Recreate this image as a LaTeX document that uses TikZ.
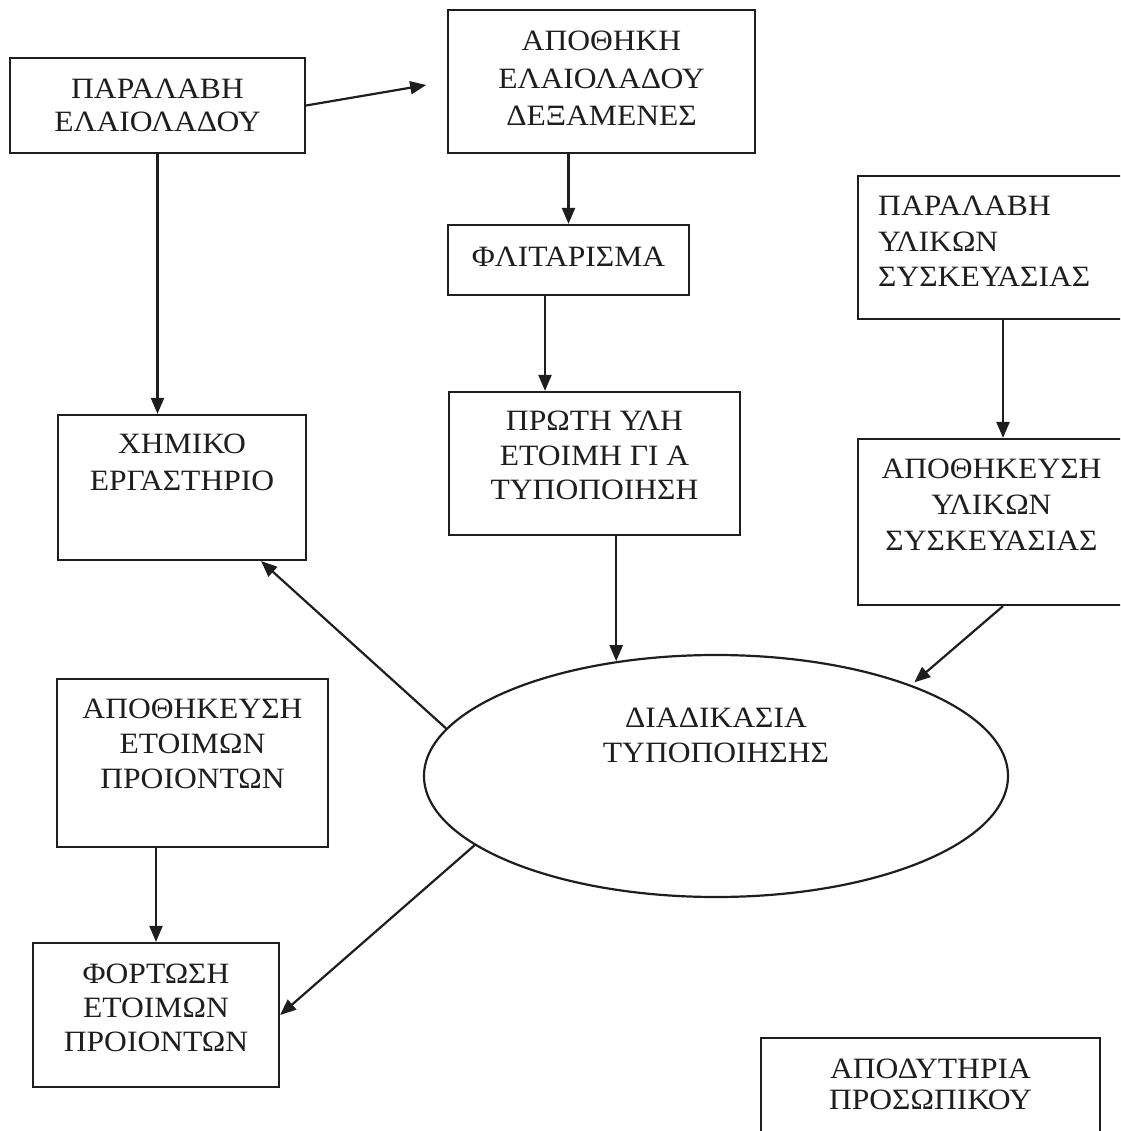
\documentclass[tikz,border=0pt]{standalone}
\usepackage{fontspec}
\setmainfont{Liberation Serif}[FakeStretch=1.07]
\usetikzlibrary{arrows.meta,shapes.geometric}
\definecolor{ink}{HTML}{1E1E1E}
\tikzset{
  frame/.style={draw=ink, line width=2.2pt, inner sep=0pt, rectangle},
  oval/.style={draw=ink, line width=2.2pt, inner sep=0pt, ellipse},
  lbl/.style={text=ink, inner sep=0pt, anchor=north, align=center},
  arr/.style={draw=ink, line width=2.2pt, -{Triangle[length=16pt,width=13pt]}},
}
\begin{document}
\begin{tikzpicture}[x=1pt,y=-1pt]
\useasboundingbox (0,0) rectangle (1120,1131);
\clip (0,0) rectangle (1120,1131);
\fill[white] (0,0) rectangle (1120,1131);

% frames
\node[frame, minimum width=295pt, minimum height=95pt]  (b1)  at (157.5,105.5) {};
\node[frame, minimum width=307pt, minimum height=143pt] (b2)  at (601.5,81.5) {};
\node[frame, minimum width=241pt, minimum height=70pt]  (b3)  at (568.5,260) {};
\node[frame, minimum width=291pt, minimum height=143pt] (b4)  at (594.5,463.5) {};
\node[frame, minimum width=248pt, minimum height=145pt] (b5)  at (182,487.5) {};
\node[frame, minimum width=272pt, minimum height=143pt] (b6)  at (994,247.5) {};
\node[frame, minimum width=267pt, minimum height=166pt] (b7)  at (991.5,522) {};
\node[frame, minimum width=271pt, minimum height=168pt] (b9)  at (192.5,763) {};
\node[frame, minimum width=246pt, minimum height=144pt] (b10) at (156,1015) {};
\node[frame, minimum width=339pt, minimum height=107pt] (b11) at (930.5,1091.5) {};
\node[oval, minimum width=584pt, minimum height=242pt]  (ell) at (716,776) {};

% texts
\node[lbl, font=\fontsize{29.5}{33}\selectfont] (t1) at (157.5,79) {ΠΑΡΑΛΑΒΗ\\ΕΛΑΙΟΛΑΔΟΥ};
\node[lbl, font=\fontsize{29.5}{37.5}\selectfont] (t2) at (601.5,31) {ΑΠΟΘΗΚΗ\\ΕΛΑΙΟΛΑΔΟΥ\\ΔΕΞΑΜΕΝΕΣ};
\node[lbl, font=\fontsize{29.5}{36}\selectfont] (t3) at (568.5,247) {ΦΛΙΤΑΡΙΣΜΑ};
\node[lbl, font=\fontsize{29.5}{34.5}\selectfont] (t4) at (594.5,411) {ΠΡΩΤΗ ΥΛΗ\\ΕΤΟΙΜΗ ΓΙ Α\\ΤΥΠΟΠΟΙΗΣΗ};
\node[lbl, font=\fontsize{29.5}{37}\selectfont] (t5) at (182,434) {ΧΗΜΙΚΟ\\ΕΡΓΑΣΤΗΡΙΟ};
\node[lbl, anchor=north west, align=left, font=\fontsize{29.5}{35.5}\selectfont] (t6) at (878,196) {ΠΑΡΑΛΑΒΗ\\ΥΛΙΚΩΝ\\ΣΥΣΚΕΥΑΣΙΑΣ};
\node[lbl, font=\fontsize{29.5}{36}\selectfont] (t7) at (991.5,459) {ΑΠΟΘΗΚΕΥΣΗ\\ΥΛΙΚΩΝ\\ΣΥΣΚΕΥΑΣΙΑΣ};
\node[lbl, font=\fontsize{29.5}{35}\selectfont] (t8) at (716,708) {ΔΙΑΔΙΚΑΣΙΑ\\ΤΥΠΟΠΟΙΗΣΗΣ};
\node[lbl, font=\fontsize{29.5}{35}\selectfont] (t9) at (192.5,699) {ΑΠΟΘΗΚΕΥΣΗ\\ΕΤΟΙΜΩΝ\\ΠΡΟΙΟΝΤΩΝ};
\node[lbl, font=\fontsize{29.5}{34}\selectfont] (t10) at (156,964) {ΦΟΡΤΩΣΗ\\ΕΤΟΙΜΩΝ\\ΠΡΟΙΟΝΤΩΝ};
\node[lbl, font=\fontsize{29.5}{31}\selectfont] (t11) at (930.5,1059) {ΑΠΟΔΥΤΗΡΙΑ\\ΠΡΟΣΩΠΙΚΟΥ};

% connectors
\draw[arr, shorten >=21pt] (b1.east) -- (b2.west);
\draw[arr] (b1.south) -- (b1.south |- b5.north);
\draw[arr] (b2.south -| b3.north) -- (b3.north);
\draw[arr] ([xshift=-23.5pt]b3.south) -- ([xshift=-23.5pt]b3.south |- b4.north);
\draw[arr] (b4.south -| ell.131) -- (ell.131);
\draw[arr] ([xshift=11.5pt]b7.north |- b6.south) -- ([xshift=11.5pt]b7.north);
\draw[arr, shorten >=4pt] ([xshift=11.5pt]b7.south) -- (ell.25);
\draw[arr] (ell.170) -- ([xshift=-46pt]b5.south east);
\draw[arr] (ell.196) -- (b10.east);
\draw[arr] (b9.south -| b10.north) -- (b10.north);
\end{tikzpicture}
\end{document}
